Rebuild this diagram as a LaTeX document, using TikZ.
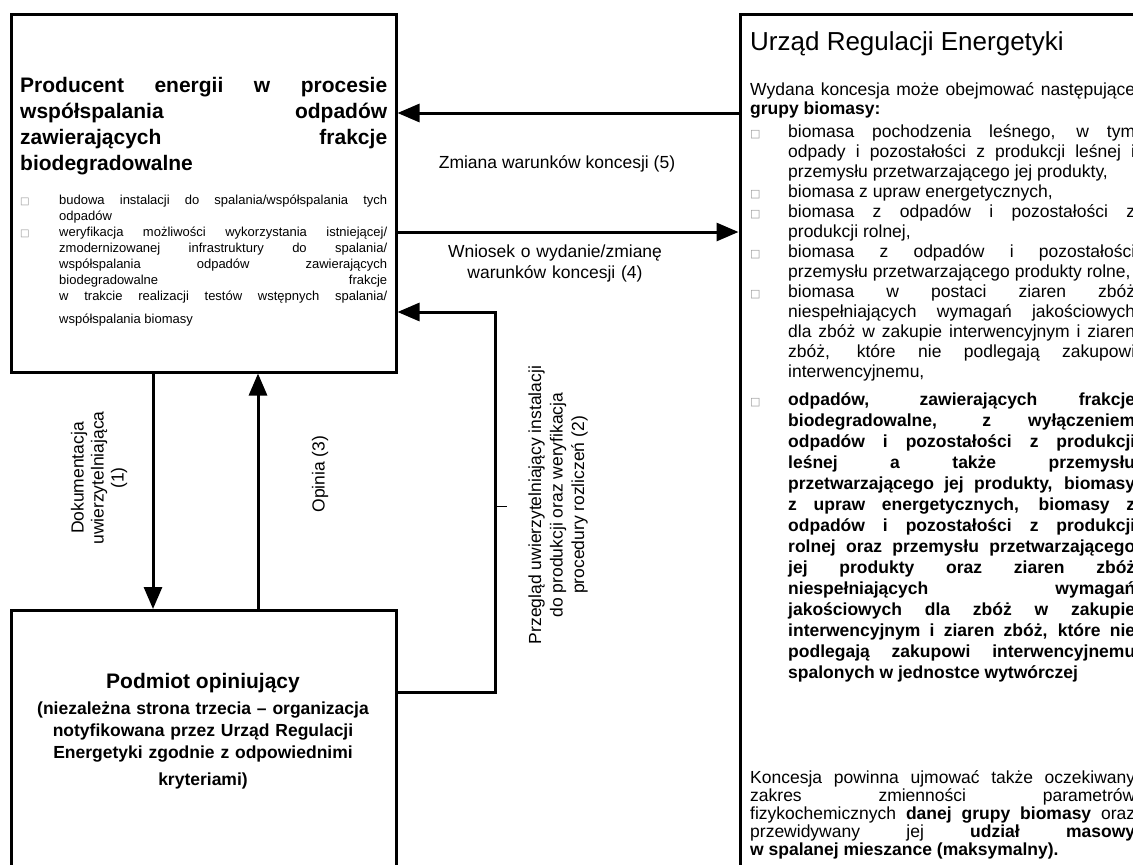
\documentclass[tikz,border=0pt]{standalone}
\usepackage{fontspec}
\setmainfont{Liberation Sans}
\newfontfamily\symbolefont{DejaVu Sans}
\usetikzlibrary{arrows.meta}
\hyphenpenalty=10000
\exhyphenpenalty=10000
\tolerance=10000
\newcommand{\kwadrat}[1]{{\symbolefont\fontsize{#1}{#1}\selectfont\color{gray!80}□}}
\newcommand{\punkt}[3]{\par\noindent\hangindent=#1\hangafter=1\makebox[#1][l]{\kwadrat{#2}}#3\par}

\begin{document}
\begin{tikzpicture}[x=1pt, y=-1pt,
    ramka/.style={draw, line width=3pt, inner sep=0pt, outer sep=0pt, anchor=north west},
    strzalka/.style={line width=3pt, -{Triangle[length=22pt, width=18pt]}, shorten >=1.5pt},
    opis/.style={inner sep=0pt, font=\fontsize{17.5}{20}\selectfont},
    blok/.style={inner sep=0pt, anchor=base west, align=justify}]
  \clip (0,0) rectangle (1133,865);
  \fill[white] (0,0) rectangle (1133,865);

  \node[ramka, minimum width=385pt, minimum height=358pt] (producent) at (11,14) {};
  \node[ramka, minimum width=385pt, minimum height=300pt] (podmiot) at (11,610.5) {};
  \node[ramka, minimum width=420pt, minimum height=880pt] (ure) at (740,14) {};

  \node[blok, text width=367pt, font=\bfseries\fontsize{21}{26}\selectfont] (producenttytul) at (20,92)
  {Producent energii w procesie\linebreak współspalania odpadów\linebreak zawierających frakcje\linebreak biodegradowalne};
  \node[blok, text width=367pt, font=\fontsize{13}{15.9}\selectfont] (producentlista) at (20,189) {%
    \punkt{39pt}{10}{budowa instalacji do spalania/współspalania tych\linebreak odpadów}
    \punkt{39pt}{10}{weryfikacja możliwości wykorzystania istniejącej/\linebreak zmodernizowanej infrastruktury do spalania/\linebreak współspalania odpadów zawierających\linebreak biodegradowalne frakcje\linebreak w trakcie realizacji testów wstępnych spalania/{\parfillskip=0pt\par}}
    \vspace{7pt}\noindent\hspace*{39pt}współspalania biomasy};

  \node[inner sep=0pt, anchor=base, text width=370pt, align=center, font=\bfseries\fontsize{17.5}{22}\selectfont] (podmiottekst) at (203,688)
  {{\fontsize{21}{22}\selectfont Podmiot opiniujący}\\[4pt]
   (niezależna strona trzecia – organizacja\\notyfikowana przez Urząd Regulacji\\Energetyki zgodnie z odpowiednimi\\[5pt]kryteriami)};

  \node[inner sep=0pt, anchor=base west, font=\fontsize{26}{30}\selectfont] (uretytul) at (750,50) {Urząd Regulacji Energetyki};
  \node[blok, text width=385pt, font=\fontsize{17.5}{19}\selectfont] (uretekst) at (750,95) {%
    Wydana koncesja może obejmować następujące\linebreak \textbf{grupy biomasy:}\par
    \fontsize{17.5}{20}\selectfont\vspace{3pt}
    \punkt{38pt}{11}{biomasa pochodzenia leśnego, w tym\linebreak odpady i pozostałości z produkcji leśnej i\linebreak przemysłu przetwarzającego jej produkty,}
    \punkt{38pt}{11}{biomasa z upraw energetycznych,}
    \punkt{38pt}{11}{biomasa z odpadów i pozostałości z\linebreak produkcji rolnej,}
    \punkt{38pt}{11}{biomasa z odpadów i pozostałości\linebreak przemysłu przetwarzającego produkty rolne,}
    \punkt{38pt}{11}{biomasa w postaci ziaren zbóż\linebreak niespełniających wymagań jakościowych\linebreak dla zbóż w zakupie interwencyjnym i ziaren\linebreak zbóż, które nie podlegają zakupowi\linebreak interwencyjnemu,}
    \fontsize{17.5}{21}\selectfont\vspace{7pt}
    \punkt{38pt}{11}{\textbf{odpadów, zawierających frakcje\linebreak biodegradowalne, z wyłączeniem\linebreak odpadów i pozostałości z produkcji\linebreak leśnej a także przemysłu\linebreak przetwarzającego jej produkty, biomasy\linebreak z upraw energetycznych, biomasy z\linebreak odpadów i pozostałości z produkcji\linebreak rolnej oraz przemysłu przetwarzającego\linebreak jej produkty oraz ziaren zbóż\linebreak niespełniających wymagań\linebreak jakościowych dla zbóż w zakupie\linebreak interwencyjnym i ziaren zbóż, które nie\linebreak podlegają zakupowi interwencyjnemu\linebreak spalonych w jednostce wytwórczej}}};
  \node[blok, text width=385pt, font=\fontsize{17.5}{18}\selectfont] (urekoncesja) at (750,783)
  {Koncesja powinna ujmować także oczekiwany\linebreak zakres zmienności parametrów\linebreak fizykochemicznych \textbf{danej grupy biomasy} oraz\linebreak przewidywany jej \textbf{udział masowy}\linebreak \textbf{w spalanej mieszance (maksymalny).}};

  \draw[strzalka] (ure.west |- 0,113) -- (producent.east |- 0,113);
  \node[opis, anchor=base] (zmiana) at (557,168) {Zmiana warunków koncesji (5)};
  \draw[strzalka] (producent.east |- 0,232) -- (ure.west |- 0,232);
  \node[opis, anchor=base, text width=240pt, align=center, font=\fontsize{17.5}{21}\selectfont] (wniosek) at (555,257)
  {Wniosek o wydanie/zmianę\\warunków koncesji (4)};

  \draw[strzalka] (producent.south -| 153,0) -- (podmiot.north -| 153,0);
  \node[opis, rotate=90, align=center] (dokumentacja) at (99,478) {Dokumentacja\\uwierzytelniająca\\(1)};
  \draw[strzalka] (podmiot.north -| 258,0) -- (producent.south -| 258,0);
  \node[opis, rotate=90] (opinia) at (320,474) {Opinia (3)};

  \draw[strzalka] (podmiot.east |- 0,692) -| (495,312) -- (producent.east |- 0,312);
  \coordinate (znacznik) at (495,506);
  \draw[line width=1pt] (znacznik) -- ++(12,0);
  \node[opis, rotate=90, align=center, font=\fontsize{17.5}{21.5}\selectfont] (przeglad) at (558,505)
  {Przegląd uwierzytelniający instalacji\\do produkcji oraz weryfikacja\\procedury rozliczeń (2)};
\end{tikzpicture}
\end{document}
